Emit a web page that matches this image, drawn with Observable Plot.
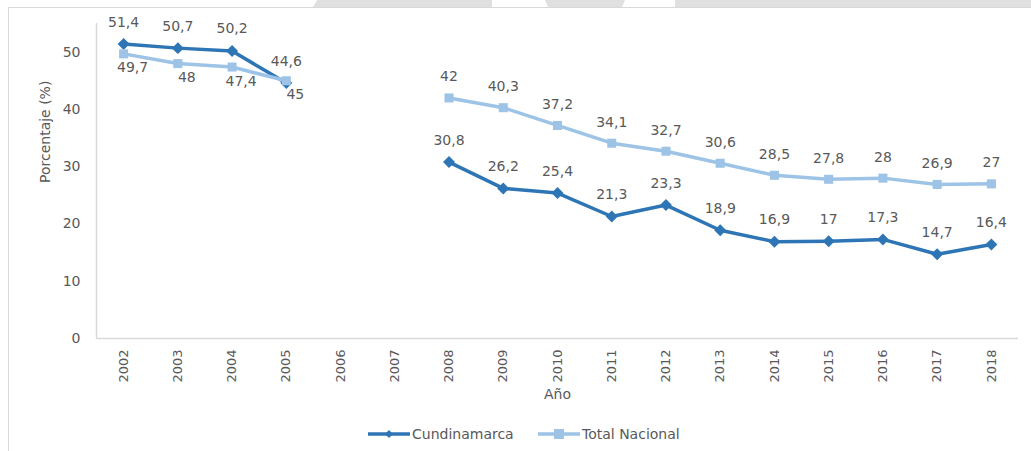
<!DOCTYPE html>
<html>
<head>
<meta charset="utf-8">
<script src="https://cdn.jsdelivr.net/npm/d3@7"></script>
<script src="https://cdn.jsdelivr.net/npm/@observablehq/plot@0.6"></script>
<style>
  html, body { margin: 0; padding: 0; background: #fff; }
  body { width: 1031px; height: 451px; position: relative; overflow: hidden; font-family: "DejaVu Sans", sans-serif; color: #595959; }
  #chart { position: absolute; left: 0; top: 0; }
  .strip { position: absolute; top: 0; height: 7px; background: #e0e0e0; }
  #frameTop { position: absolute; top: 7px; left: 8px; right: 0; height: 0; border-top: 1px solid #d9d9d9; }
  #frameLeft { position: absolute; top: 7px; left: 8px; bottom: 0; width: 0; border-left: 1px solid #d9d9d9; }
  #legend { position: absolute; top: 424px; left: 0; width: 1031px; height: 20px; }
</style>
</head>
<body>
<div class="strip" style="left:313px;width:179px;clip-path:polygon(4px 0,100% 0,100% 100%,0 100%)"></div>
<div class="strip" style="left:545px;width:80px;clip-path:polygon(0 0,100% 0,calc(100% - 3px) 100%,3px 100%)"></div>
<div class="strip" style="left:675px;width:356px"></div>
<div id="frameTop"></div>
<div id="frameLeft"></div>
<div id="chart"></div>
<div id="legend"></div>
<script>
const years = [2002, 2003, 2004, 2005, 2006, 2007, 2008, 2009, 2010, 2011, 2012, 2013, 2014, 2015, 2016, 2017, 2018];
const cundinamarca = [51.4, 50.7, 50.2, 44.6, null, null, 30.8, 26.2, 25.4, 21.3, 23.3, 18.9, 16.9, 17, 17.3, 14.7, 16.4];
const totalNacional = [49.7, 48, 47.4, 45, null, null, 42, 40.3, 37.2, 34.1, 32.7, 30.6, 28.5, 27.8, 28, 26.9, 27];
const yTicks = [0, 10, 20, 30, 40, 50];
const seriesNames = ["Cundinamarca", "Total Nacional"];
const yLabel = "Porcentaje (%)";
const xLabel = "Año";

const cDark = "#2E75B6";
const cLight = "#9DC3E6";
const txt = "#595959";

const cData = years.map((year, i) => ({year, value: cundinamarca[i]}));
const tData = years.map((year, i) => ({year, value: totalNacional[i]}));
const fmt = v => String(v).replace(".", ",");
const defined = d => d.value != null;

const plot = Plot.plot({
  width: 1031,
  height: 410,
  marginLeft: 96,
  marginRight: 13,
  marginTop: 23,
  marginBottom: 72,
  style: {fontFamily: "DejaVu Sans, sans-serif", fontSize: "14px", color: txt, background: "transparent", overflow: "visible"},
  x: {type: "linear", domain: [2001.5, 2018.5], axis: null},
  y: {domain: [0, 55], axis: null},
  marks: [
    Plot.ruleY([0], {stroke: "#d9d9d9", strokeWidth: 1.5}),
    Plot.ruleX([2001.5], {y1: 0, y2: 55, stroke: "#d9d9d9", strokeWidth: 1.5}),
    Plot.axisY(yTicks, {tickSize: 0, tickPadding: 16, label: null, fill: txt, fontSize: 14}),
    Plot.axisX(years, {tickSize: 0, tickPadding: 11, tickRotate: -90, tickFormat: d => String(d), label: null, fill: txt, fontSize: 13}),
    Plot.text([xLabel], {frameAnchor: "bottom", dy: 56, lineAnchor: "middle", fill: txt, fontSize: 14}),
    Plot.text([yLabel], {frameAnchor: "left", dx: -51, dy: 2, rotate: -90, lineAnchor: "middle", fill: txt, fontSize: 14}),
    Plot.line(cData, {x: "year", y: "value", stroke: cDark, strokeWidth: 3.5}),
    Plot.dot(cData.filter(defined), {x: "year", y: "value", symbol: "diamond2", r: 5.4, fill: cDark, stroke: "none"}),
    Plot.line(tData, {x: "year", y: "value", stroke: cLight, strokeWidth: 3.5}),
    Plot.dot(tData.filter(defined), {x: "year", y: "value", symbol: "square", r: 5.1, fill: cLight, stroke: "none"}),
    Plot.text(cData.filter(defined), {x: "year", y: "value", text: d => fmt(d.value), dy: -22, fill: txt, fontSize: 14}),
    Plot.text(tData.filter(d => defined(d) && d.year <= 2005), {x: "year", y: "value", text: d => fmt(d.value), dy: 14, dx: 9, fill: txt, fontSize: 14}),
    Plot.text(tData.filter(d => defined(d) && d.year > 2005), {x: "year", y: "value", text: d => fmt(d.value), dy: -21, fill: txt, fontSize: 14})
  ]
});
document.getElementById("chart").appendChild(plot);

// legend
const lg = d3.select("#legend").append("svg").attr("width", 1031).attr("height", 20);
const items = [
  {name: seriesNames[0], color: cDark, x0: 368, x1: 410, sym: "diamond"},
  {name: seriesNames[1], color: cLight, x0: 538, x1: 580, sym: "square"}
];
items.forEach(it => {
  const g = lg.append("g");
  g.append("line").attr("x1", it.x0).attr("x2", it.x1).attr("y1", 10).attr("y2", 10)
    .attr("stroke", it.color).attr("stroke-width", 3.5);
  const cx = (it.x0 + it.x1) / 2;
  if (it.sym === "diamond") {
    g.append("path").attr("d", d3.symbol(d3.symbolDiamond2, 40)()).attr("transform", `translate(${cx},10)`).attr("fill", it.color);
  } else {
    g.append("rect").attr("x", cx - 5).attr("y", 5).attr("width", 10).attr("height", 10).attr("fill", it.color);
  }
  g.append("text").attr("x", it.x1 + 2).attr("y", 10).attr("dy", "0.35em")
    .attr("fill", txt).attr("font-size", 14).attr("font-family", "DejaVu Sans, sans-serif").text(it.name);
});
</script>
</body>
</html>
